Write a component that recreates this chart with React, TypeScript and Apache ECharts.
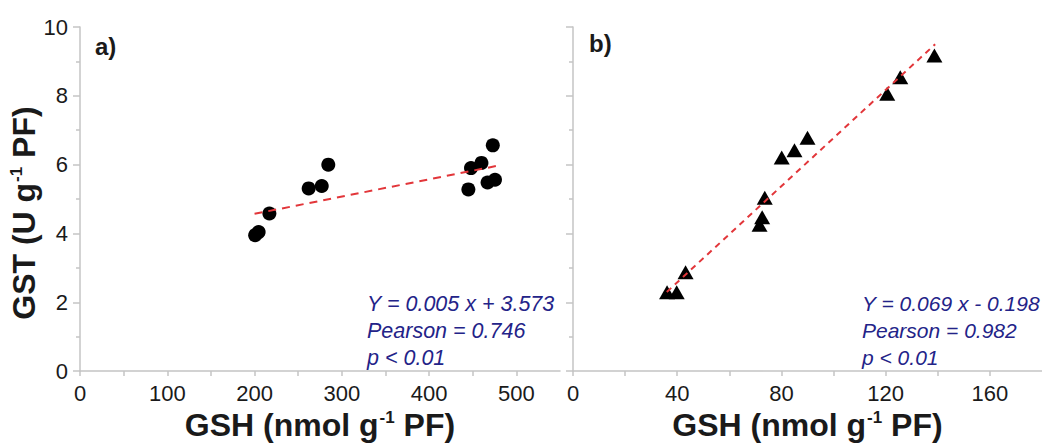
import React, { useEffect, useRef } from "react";
import * as echarts from "echarts";

// Panel a) GSH (nmol/g) vs GST
const gshA = [200.7, 204.7, 217, 262, 277, 284.5, 445, 448, 460, 473, 467, 475.5];
const gstA = [3.95, 4.04, 4.58, 5.31, 5.38, 6.0, 5.28, 5.9, 6.05, 6.56, 5.48, 5.56];
const fitAX = [200, 477];
const fitAY = [4.57, 5.96];

// Panel b)
const gshB = [36.1, 39.8, 43.2, 71.6, 72.6, 73.6, 80.1, 85, 90, 120.6, 125.6, 138.7];
const gstB = [2.29, 2.29, 2.87, 4.25, 4.47, 5.04, 6.21, 6.42, 6.78, 8.06, 8.54, 9.17];
const fitBX = [36, 139];
const fitBY = [2.3, 9.5];

const annotA = ["Y = 0.005 x + 3.573", "Pearson = 0.746", "p < 0.01"];
const annotB = ["Y = 0.069 x - 0.198", "Pearson = 0.982", "p < 0.01"];
const panelLabels = ["a)", "b)"];

const FONT = "'Liberation Sans', Arial, sans-serif";
const AXIS_COLOR = "#c4c4c4";
const TEXT_COLOR = "#1a1a1a";
const NAVY = "#232388";

const zip = (xs: number[], ys: number[]) => xs.map((x, i) => [x, ys[i]]);

const richName = {
  sup: { fontSize: 17, fontWeight: "bold", fontFamily: FONT, color: TEXT_COLOR, verticalAlign: "top", padding: [0, 0, 0, 1] },
};

export default function App() {
  const ref = useRef<HTMLDivElement>(null);
  useEffect(() => {
    document.body.style.margin = "0";
    const chart = echarts.init(ref.current!, null, { renderer: "svg" });
    const axisLine = { show: true, lineStyle: { color: AXIS_COLOR, width: 1.5 } };
    const xCommon = (max: number, interval: number, labelEvery: number, gi: number) => ({
      type: "value",
      gridIndex: gi,
      min: 0,
      max,
      interval,
      splitLine: { show: false },
      axisLine,
      axisTick: { show: true, length: 5, lineStyle: { color: AXIS_COLOR, width: 1.5 } },
      axisLabel: {
        color: TEXT_COLOR,
        fontSize: 22,
        fontFamily: FONT,
        margin: 11,
        showMaxLabel: false,
        formatter: (v: number) => (v % labelEvery === 0 ? String(v) : ""),
      },
      name: "GSH (nmol g{sup|-1} PF)",
      nameLocation: "middle",
      nameGap: 28,
      nameTextStyle: { fontSize: 32, fontWeight: "bold", fontFamily: FONT, color: TEXT_COLOR, rich: richName },
    });
    const yCommon = (gi: number, showLabels: boolean) => ({
      type: "value",
      gridIndex: gi,
      min: 0,
      max: 10,
      interval: 2,
      splitLine: { show: false },
      axisLine,
      axisTick: { show: true, length: 7, lineStyle: { color: AXIS_COLOR, width: 1.5 } },
      minorTick: { show: true, splitNumber: 2, length: 4, lineStyle: { color: AXIS_COLOR, width: 1.5 } },
      axisLabel: { show: showLabels, color: TEXT_COLOR, fontSize: 22, fontFamily: FONT, margin: 12 },
      name: showLabels ? "GST (U g{sup|-1} PF)" : "",
      nameLocation: "middle",
      nameRotate: 90,
      nameGap: 26,
      nameTextStyle: {
        fontSize: 32,
        fontWeight: "bold",
        fontFamily: FONT,
        color: TEXT_COLOR,
        rich: richName,
        padding: [0, 28, 0, 0],
      },
    });
    const annot = (lines: string[], left: number, size: number) => ({
      type: "text",
      left,
      top: 290,
      style: {
        text: lines.join("\n"),
        font: `italic ${size}px ${FONT}`,
        fill: NAVY,
        lineHeight: 27,
      },
    });
    chart.setOption({
      animation: false,
      grid: [
        { left: 80, top: 27, width: 480, height: 351 },
        { left: 573, top: 27, width: 480, height: 351 },
      ],
      xAxis: [xCommon(550, 50, 100, 0), xCommon(180, 20, 40, 1)],
      yAxis: [yCommon(0, true), yCommon(1, false)],
      series: [
        {
          type: "scatter",
          xAxisIndex: 0,
          yAxisIndex: 0,
          data: zip(gshA, gstA),
          symbol: "circle",
          symbolSize: 14,
          itemStyle: { color: "#000", opacity: 1 },
          z: 3,
        },
        {
          type: "line",
          xAxisIndex: 0,
          yAxisIndex: 0,
          data: zip(fitAX, fitAY),
          showSymbol: false,
          lineStyle: { color: "#e2363a", width: 2, type: [8, 6] },
          z: 4,
        },
        {
          type: "scatter",
          xAxisIndex: 1,
          yAxisIndex: 1,
          data: zip(gshB, gstB),
          symbol: "triangle",
          symbolSize: [16, 14],
          itemStyle: { color: "#000", opacity: 1 },
          z: 3,
        },
        {
          type: "line",
          xAxisIndex: 1,
          yAxisIndex: 1,
          data: zip(fitBX, fitBY),
          showSymbol: false,
          lineStyle: { color: "#e2363a", width: 2, type: [6, 5] },
          z: 4,
        },
      ],
      graphic: [
        { type: "text", left: 95, top: 34, style: { text: panelLabels[0], font: `bold 24px ${FONT}`, fill: TEXT_COLOR } },
        { type: "text", left: 589, top: 31, style: { text: panelLabels[1], font: `bold 24px ${FONT}`, fill: TEXT_COLOR } },
        annot(annotA, 367, 21.5),
        annot(annotB, 862, 21),
      ],
    });
    return () => chart.dispose();
  }, []);
  return <div ref={ref} style={{ width: 1042, height: 446 }} />;
}
